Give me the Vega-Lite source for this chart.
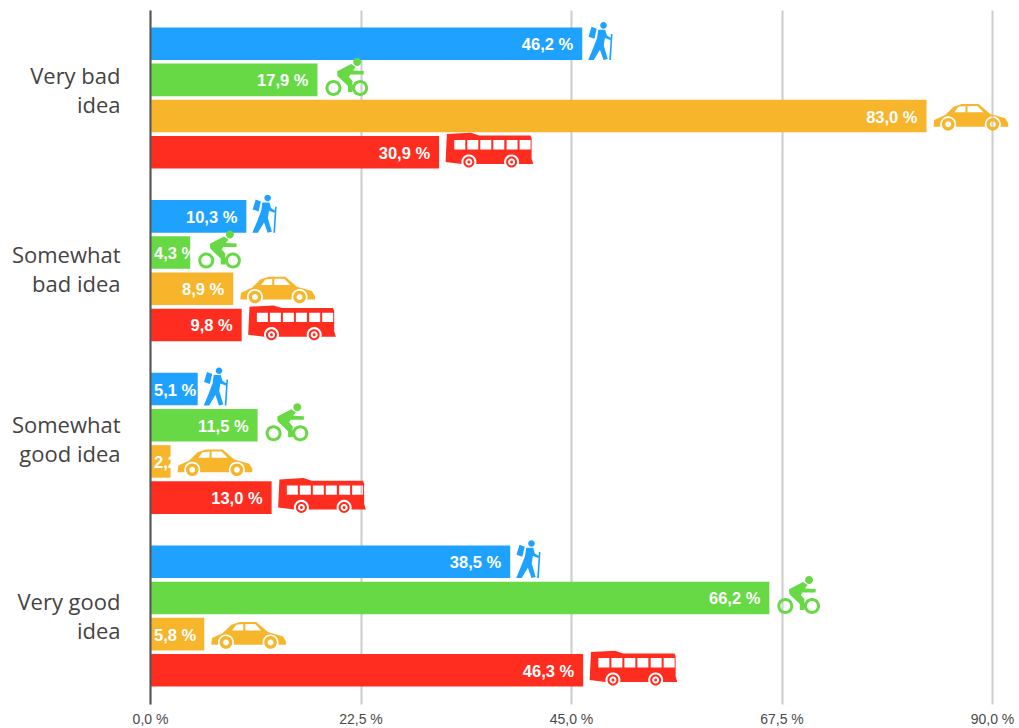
{
"$schema":"https://vega.github.io/schema/vega-lite/v6.json",
"width":842,"height":694,
"autosize":"none",
"padding":{"left":150,"top":10,"right":27,"bottom":24},
"background":"white",
"data":{"values":[
{"idea":"Very bad idea","mode":"walk","value":46.2,"label":"46,2 %"},
{"idea":"Very bad idea","mode":"bike","value":17.9,"label":"17,9 %"},
{"idea":"Very bad idea","mode":"car","value":83.0,"label":"83,0 %"},
{"idea":"Very bad idea","mode":"bus","value":30.9,"label":"30,9 %"},
{"idea":"Somewhat bad idea","mode":"walk","value":10.3,"label":"10,3 %"},
{"idea":"Somewhat bad idea","mode":"bike","value":4.3,"label":"4,3 %"},
{"idea":"Somewhat bad idea","mode":"car","value":8.9,"label":"8,9 %"},
{"idea":"Somewhat bad idea","mode":"bus","value":9.8,"label":"9,8 %"},
{"idea":"Somewhat good idea","mode":"walk","value":5.1,"label":"5,1 %"},
{"idea":"Somewhat good idea","mode":"bike","value":11.5,"label":"11,5 %"},
{"idea":"Somewhat good idea","mode":"car","value":2.2,"label":"2,2 %"},
{"idea":"Somewhat good idea","mode":"bus","value":13.0,"label":"13,0 %"},
{"idea":"Very good idea","mode":"walk","value":38.5,"label":"38,5 %"},
{"idea":"Very good idea","mode":"bike","value":66.2,"label":"66,2 %"},
{"idea":"Very good idea","mode":"car","value":5.8,"label":"5,8 %"},
{"idea":"Very good idea","mode":"bus","value":46.3,"label":"46,3 %"}
]},
"encoding":{
"y":{"field":"idea","type":"nominal","title":null,
"sort":["Very bad idea","Somewhat bad idea","Somewhat good idea","Very good idea"],
"scale":{"paddingInner":0.183,"paddingOuter":0.101},
"axis":{"zindex":1,"ticks":false,"grid":false,"domain":true,"domainColor":"#555555","domainWidth":2,"labelFont":"Open Sans","labelFontSize":22,"labelColor":"#444444","labelPadding":30,"labelLimit":200,"labelLineHeight":29,
"labelOffset":{"condition":[{"test":"datum.label=='Very bad idea'","value":-21},{"test":"datum.label=='Somewhat bad idea'","value":-15},{"test":"datum.label=='Somewhat good idea'","value":-17}],"value":-13},
"labelExpr":"indexof(datum.label,'Very')==0 ? [slice(datum.label,0,-5),'idea'] : ['Somewhat',slice(datum.label,9)]"}},
"yOffset":{"field":"mode","type":"nominal","sort":["walk","bike","car","bus"],"scale":{"paddingInner":0.1,"paddingOuter":0}}
},
"layer":[
{"mark":{"type":"bar"},
"encoding":{
"x":{"field":"value","type":"quantitative","title":null,"scale":{"domain":[0,90],"nice":false},
"axis":{"values":[0,22.5,45,67.5,90],"grid":true,"gridColor":"#cccccc","gridWidth":2,"domain":false,"ticks":false,"labelFont":"Liberation Sans","labelFontSize":14,"labelColor":"#4a4a4a","labelPadding":8,
"labelExpr":"replace(format(datum.value,'.1f'),'.',',')+' %'","labelFlush":false,"labelOverlap":false}},
"color":{"field":"mode","type":"nominal","legend":null,"scale":{"domain":["walk","bike","car","bus"],"range":["#1FA2FF","#66D944","#F7B52C","#FF2D20"]}}
}},
{"transform":[{"filter":"datum.value>=6"}],
"mark":{"type":"text","align":"right","baseline":"middle","dx":-9,"dy":1.5,"font":"Liberation Sans","fontWeight":"bold","fontSize":16.5,"color":"white"},
"encoding":{"x":{"field":"value","type":"quantitative"},"text":{"field":"label"}}},
{"transform":[{"filter":"datum.value<6"}],
"mark":{"type":"text","align":"left","baseline":"middle","dx":4,"dy":1.5,"font":"Liberation Sans","fontWeight":"bold","fontSize":16.5,"color":"white"},
"encoding":{"x":{"datum":0,"type":"quantitative"},"text":{"field":"label"}}},
{"mark":{"type":"point","filled":true,"size":4,"opacity":1,"strokeWidth":0},
"encoding":{
"x":{"field":"value","type":"quantitative"},
"color":{"field":"mode","type":"nominal","legend":null},
"shape":{"field":"mode","type":"nominal","legend":null,"scale":{"domain":["walk","bike","car","bus"],"range":[
"M18,-18.3A3.3,3.3 0 1,1 24.6,-18.3A3.3,3.3 0 1,1 18,-18.3Z M16,-14L23,-14L24.7,-8.3L28.7,-5.7L28,-3.7L22.7,-5.7L21.5,1.7L25.5,15.3L21.3,16.3L17.7,6L11.5,16.3L6,16.3L11,4.3L14.8,-5.7Z M9.3,-17L14.5,-15L12.2,-5L6.3,-7Z M28.7,-9.7L30.3,-9.7L28.7,16.3L27,16.3Z",
"M8,8A8,8 0 1,1 24,8A8,8 0 1,1 8,8Z M11,8A5,5 0 1,0 21,8A5,5 0 1,0 11,8Z M34.7,8A8,8 0 1,1 50.7,8A8,8 0 1,1 34.7,8Z M37.7,8A5,5 0 1,0 47.7,8A5,5 0 1,0 37.7,8Z M35.7,-18A4,4 0 1,1 43.7,-18A4,4 0 1,1 35.7,-18Z M33.7,-16L38.3,-13L35.5,-9.5L46.3,-9L46.3,-5.5L33,-5.5L31.5,-3L35,1L35,12L30.5,12L30.5,6L20,-4L19.7,-8.7Z",
"M7,10.7L7.7,4L18.7,-1L27,-9.3L35.3,-12L52,-12L63.7,-2L78.7,2.3L81.7,7.3L81.7,10.7L73.93,10.7A8,8 0 1,0 58.67,10.7L29.33,10.7A8,8 0 1,0 14.07,10.7Z M27.7,-3.7L39,-3.7L39,-10L32,-9.3Z M41,-3.7L57,-3.7L51,-10L41,-10Z M15.4,8.3A6.3,6.3 0 1,1 28,8.3A6.3,6.3 0 1,1 15.4,8.3Z M18.7,8.3A3,3 0 1,0 24.7,8.3A3,3 0 1,0 18.7,8.3Z M60,8.3A6.3,6.3 0 1,1 72.6,8.3A6.3,6.3 0 1,1 60,8.3Z M63.3,8.3A3,3 0 1,0 69.3,8.3A3,3 0 1,0 63.3,8.3Z",
"M7.8,-18.2L31.8,-19.5L40.2,-16.8L91.2,-16.8L92.5,-14.2L92.5,6.2L94.2,11.8L79.7,11.8A7.5,7.5 0 1,0 65.3,11.8L37,11.8A7.5,7.5 0 1,0 22.6,11.8L6.5,9.8Z M15.2,-2.8L26.2,-2.8L26.2,-12.2L15.2,-12.2Z M28.2,-2.8L39.2,-2.8L39.2,-12.2L28.2,-12.2Z M41.2,-2.8L52.2,-2.8L52.2,-12.2L41.2,-12.2Z M54.2,-2.8L65.2,-2.8L65.2,-12.2L54.2,-12.2Z M67.5,-2.8L78.5,-2.8L78.5,-12.2L67.5,-12.2Z M80.5,-2.8L91.5,-2.8L91.5,-12.2L80.5,-12.2Z M24.3,9.8A5.5,5.5 0 1,1 35.3,9.8A5.5,5.5 0 1,1 24.3,9.8Z M26.3,9.8A3.5,3.5 0 1,0 33.3,9.8A3.5,3.5 0 1,0 26.3,9.8Z M28.3,9.8A1.5,1.5 0 1,1 31.3,9.8A1.5,1.5 0 1,1 28.3,9.8Z M67,9.8A5.5,5.5 0 1,1 78,9.8A5.5,5.5 0 1,1 67,9.8Z M69,9.8A3.5,3.5 0 1,0 76,9.8A3.5,3.5 0 1,0 69,9.8Z M71,9.8A1.5,1.5 0 1,1 74,9.8A1.5,1.5 0 1,1 71,9.8Z"
]}}
}}
],
"config":{"view":{"stroke":null}}
}
